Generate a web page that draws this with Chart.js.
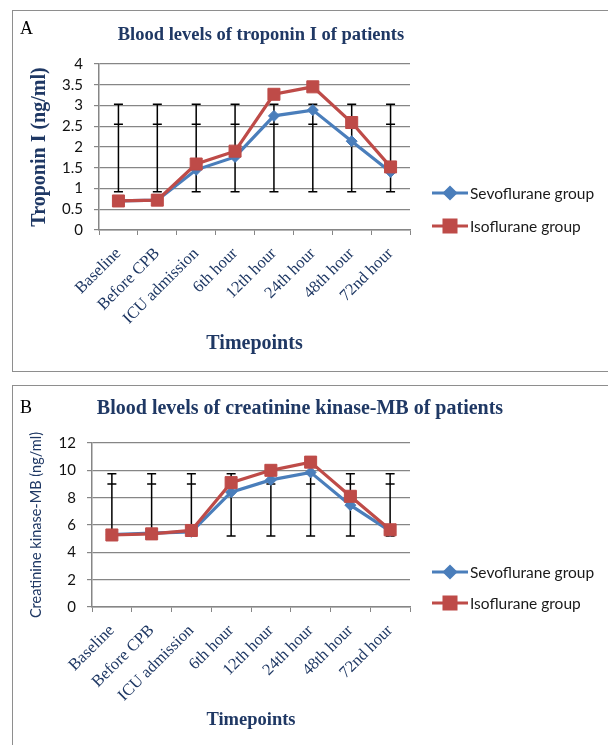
<!DOCTYPE html>
<html>
<head>
<meta charset="utf-8">
<script src="https://cdn.jsdelivr.net/npm/chart.js@4"></script>
<style>
  body { margin: 0; background: #fff; width: 608px; height: 745px; overflow: hidden; position: relative; }
  .panel { position: absolute; left: 12px; width: 600px; border: 1px solid #8e8e8e; background: #fff; }
  #panelA { top: 10px; height: 360px; }
  #panelB { top: 385px; height: 370px; }
  .panel canvas { position: absolute; left: 0; top: 0; }
  .letter { position: absolute; font-family: 'Liberation Serif', serif; font-size: 18px; color: #000; line-height: 18px; }
  .title { position: absolute; font-family: 'Liberation Serif', serif; font-weight: bold; color: #1f3864; white-space: nowrap; transform: translate(-50%, -50%); }
</style>
</head>
<body>
<div class="panel" id="panelA"><canvas id="chartA" width="595" height="360"></canvas></div>
<div class="panel" id="panelB"><canvas id="chartB" width="595" height="359"></canvas></div>
<div class="letter" style="left:20px; top:19px;">A</div>
<div class="title" style="left:261px; top:34px; font-size:18.5px;">Blood levels of troponin I of patients</div>
<div class="letter" style="left:20px; top:398px;">B</div>
<div class="title" style="left:300px; top:407px; font-size:20px;">Blood levels of creatinine kinase-MB of patients</div>

<script>
// data
const timepoints = ['Baseline', 'Before CPB', 'ICU admission', '6th hour', '12th hour', '24th hour', '48th hour', '72nd hour'];
const seriesNames = ['Sevoflurane group', 'Isoflurane group'];

const troponinSevo = [0.70, 0.72, 1.45, 1.76, 2.75, 2.89, 2.14, 1.40];
const troponinIso = [0.70, 0.72, 1.59, 1.90, 3.27, 3.45, 2.59, 1.52];
const troponinErrLow = [0.92, 0.92, 0.92, 0.92, 0.92, 0.92, 0.92, 0.92];
const troponinErrMid = [2.55, 2.55, 2.55, 2.55, 2.55, 2.55, 2.55, 2.55];
const troponinErrHigh = [3.03, 3.03, 3.03, 3.03, 3.03, 3.03, 3.03, 3.03];
const troponinMax = 4;
const troponinStep = 0.5;

const ckmbSevo = [5.30, 5.40, 5.50, 8.40, 9.30, 9.85, 7.45, 5.55];
const ckmbIso = [5.27, 5.35, 5.60, 9.10, 10.0, 10.6, 8.10, 5.65];
const ckmbErrLow = [5.2, 5.2, 5.2, 5.2, 5.2, 5.2, 5.2, 5.2];
const ckmbErrMid = [9.0, 9.0, 9.0, 9.0, 9.0, 9.0, 9.0, 9.0];
const ckmbErrHigh = [9.75, 9.75, 9.75, 9.75, 9.75, 9.75, 9.75, 9.75];
const ckmbMax = 12;
const ckmbStep = 2;

const blue = '#4a7ebb';
const red = '#be4b48';
const navy = '#1f3864';
const gridGray = '#868686';

// error bars drawn from the values through the chart scales
const errorBarsPlugin = {
  id: 'errorBars',
  beforeDatasetsDraw(chart, args, opts) {
    const { ctx, scales: { x, y } } = chart;
    ctx.save();
    ctx.strokeStyle = '#000';
    ctx.lineWidth = 1.5;
    opts.low.forEach((lo, i) => {
      const px = x.getPixelForValue(i);
      const yLo = y.getPixelForValue(lo);
      const yHi = y.getPixelForValue(opts.high[i]);
      const yMid = y.getPixelForValue(opts.mid[i]);
      ctx.beginPath();
      ctx.moveTo(px, yLo);
      ctx.lineTo(px, yHi);
      [yLo, yMid, yHi].forEach(py => {
        ctx.moveTo(px - 4.5, py);
        ctx.lineTo(px + 4.5, py);
      });
      ctx.stroke();
    });
    ctx.restore();
  }
};

// legend at the right with line + marker like the original
const sideLegendPlugin = {
  id: 'sideLegend',
  afterDraw(chart, args, opts) {
    const ctx = chart.ctx;
    ctx.save();
    chart.data.datasets.forEach((ds, i) => {
      const y = opts.y[i];
      ctx.strokeStyle = ds.borderColor;
      ctx.lineWidth = 3;
      ctx.beginPath();
      ctx.moveTo(opts.x, y);
      ctx.lineTo(opts.x + 36, y);
      ctx.stroke();
      Chart.helpers.drawPoint(ctx, {
        pointStyle: ds.pointStyle,
        radius: ds.pointRadius,
        borderWidth: 1
      }, opts.x + 18, y);
      ctx.fillStyle = ds.backgroundColor;
      ctx.fill();
      ctx.fillStyle = '#1a1a1a';
      ctx.font = '15.5px Lato';
      ctx.textBaseline = 'middle';
      ctx.fillText(ds.label, opts.x + 38, y + 1);
    });
    ctx.restore();
  }
};

Chart.register(errorBarsPlugin, sideLegendPlugin);

function makeChart(id, cfg) {
  return new Chart(document.getElementById(id), {
    type: 'line',
    data: {
      labels: timepoints,
      datasets: [
        {
          label: seriesNames[0],
          data: cfg.sevo,
          borderColor: blue,
          backgroundColor: blue,
          pointStyle: 'rectRot',
          pointRadius: 5.5,
          pointBorderWidth: 1,
          borderWidth: 3.2,
          tension: 0,
          order: 2,
        },
        {
          label: seriesNames[1],
          data: cfg.iso,
          borderColor: red,
          backgroundColor: red,
          pointStyle: 'rect',
          pointRadius: 8.5,
          pointBorderWidth: 1,
          borderWidth: 3.2,
          tension: 0,
          order: 1,
        },
      ],
    },
    options: {
      responsive: false,
      animation: false,
      layout: { padding: { top: cfg.top, right: 198, left: 0, bottom: 0 } },
      plugins: {
        legend: { display: false },
        tooltip: { enabled: false },
        errorBars: { low: cfg.errLow, mid: cfg.errMid, high: cfg.errHigh },
        sideLegend: { x: 419, y: cfg.legendY },
      },
      scales: {
        x: {
          offset: true,
          grid: { offset: true, drawOnChartArea: false, color: gridGray, tickLength: 5 },
          border: { color: gridGray, width: 1.5 },
          ticks: {
            autoSkip: false,
            minRotation: 45,
            maxRotation: 45,
            padding: 9,
            color: navy,
            font: { family: 'Liberation Serif', size: 16.5 },
          },
          title: {
            display: true,
            text: 'Timepoints',
            color: navy,
            font: { family: 'Liberation Serif', size: cfg.xTitleSize, weight: 'bold' },
            padding: { top: 0, bottom: cfg.xTitlePad },
          },
          afterFit: axis => { axis.height = cfg.xAxisH; },
        },
        y: {
          min: 0,
          max: cfg.max,
          ticks: {
            stepSize: cfg.step,
            autoSkip: false,
            padding: 11,
            color: '#111',
            font: { family: 'Lato', size: 15 },
            callback: v => String(v),
          },
          grid: { color: gridGray, lineWidth: 1.2, tickLength: 5 },
          border: { color: gridGray, width: 1.5 },
          title: {
            display: true,
            text: cfg.yTitle,
            color: navy,
            font: cfg.yTitleFont,
            padding: { top: cfg.yTitlePad, bottom: 0 },
          },
          afterFit: axis => { axis.width = cfg.yAxisW; },
        },
      },
    },
  });
}

makeChart('chartA', {
  sevo: troponinSevo, iso: troponinIso,
  errLow: troponinErrLow, errMid: troponinErrMid, errHigh: troponinErrHigh,
  max: troponinMax, step: troponinStep,
  top: 53, yAxisW: 86, xAxisH: 141, xTitlePad: 15, xTitleSize: 20,
  yTitle: 'Troponin I (ng/ml)',
  yTitleFont: { family: 'Liberation Serif', size: 20, weight: 'bold' },
  yTitlePad: 15,
  legendY: [182, 215],
});

makeChart('chartB', {
  sevo: ckmbSevo, iso: ckmbIso,
  errLow: ckmbErrLow, errMid: ckmbErrMid, errHigh: ckmbErrHigh,
  max: ckmbMax, step: ckmbStep,
  top: 57, yAxisW: 79, xAxisH: 138, xTitlePad: 14, xTitleSize: 18.5,
  yTitle: 'Creatinine kinase-MB (ng/ml)',
  yTitleFont: { family: 'Lato', size: 14.5 },
  yTitlePad: 15,
  legendY: [186, 217],
});
</script>
</body>
</html>
